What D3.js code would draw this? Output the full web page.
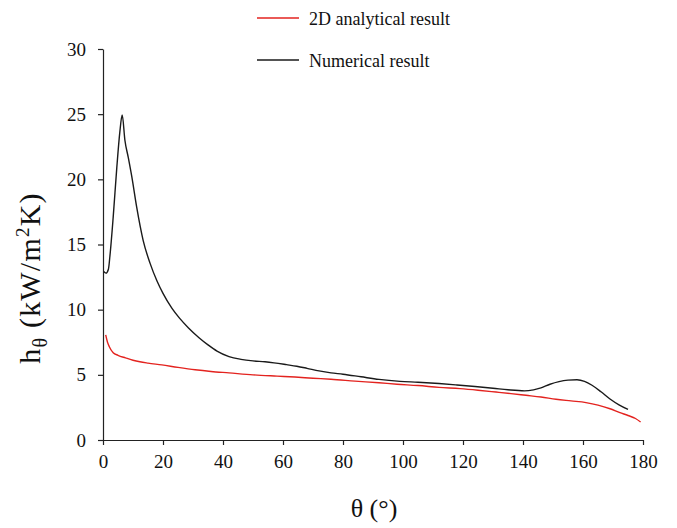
<!DOCTYPE html>
<html>
<head>
<meta charset="utf-8">
<script src="https://cdn.jsdelivr.net/npm/d3@7/dist/d3.min.js"></script>
<style>
  html, body { margin: 0; padding: 0; background: #fff; }
  svg, svg text { font-family: "Liberation Serif", "Times New Roman", serif; }
</style>
</head>
<body>
<svg id="chart" width="677" height="528"></svg>
<script>
// Numerical result: local heat transfer coefficient vs. angle
const numTheta = [0.2, 1.0, 1.8, 2.3, 3.4, 4.6, 5.6, 6.4, 7.3, 8.4, 9.6, 11.2, 13.4, 15.7, 18, 20,
  23, 25.5, 28.5, 32, 35, 38, 42, 46, 50, 54, 57, 61.2, 64.6, 68, 72, 76, 80, 86, 92, 99,
  105, 112, 118, 124, 130, 135, 140.5, 143.5, 146, 149, 152, 155, 158, 160.5, 163, 166, 169, 172, 175];
const numH = [12.92, 12.8, 13.1, 14.1, 17.1, 20.9, 23.6, 24.94, 23.0, 21.7, 20.2, 17.9, 15.3, 13.55, 12.2, 11.25,
  10.1, 9.35, 8.6, 7.85, 7.3, 6.82, 6.4, 6.19, 6.07, 6.0, 5.92, 5.78, 5.66, 5.5, 5.3, 5.15, 5.05, 4.85, 4.65, 4.5,
  4.43, 4.33, 4.22, 4.1, 3.97, 3.85, 3.77, 3.85, 4.0, 4.28, 4.48, 4.59, 4.62, 4.5, 4.2, 3.7, 3.15, 2.7, 2.35];

// 2D analytical result
const anaTheta = [0.9, 1.5, 2.1, 3.4, 5, 7.5, 10, 12.3, 15, 19.6, 25, 30.7, 36, 42, 50, 58, 64, 70, 76, 84,
  92, 98, 105, 112, 119, 125, 131, 136, 141, 146, 151, 156, 161, 165, 169, 172.3, 175, 177.5, 179.2];
const anaH = [8.06, 7.5, 7.16, 6.7, 6.5, 6.3, 6.12, 6.0, 5.9, 5.76, 5.57, 5.39, 5.26, 5.15, 5.0, 4.9, 4.83, 4.74, 4.66, 4.52,
  4.39, 4.28, 4.18, 4.04, 3.94, 3.82, 3.68, 3.56, 3.43, 3.3, 3.13, 3.0, 2.87, 2.68, 2.4, 2.1, 1.88, 1.65, 1.38];

const xTicks = [0, 20, 40, 60, 80, 100, 120, 140, 160, 180];
const yTicks = [0, 5, 10, 15, 20, 25, 30];

const seriesNames = ["2D analytical result", "Numerical result"];
const seriesColors = ["#e3231f", "#1a1a1a"];

const serif = "'Liberation Serif', 'Times New Roman', serif";
const svg = d3.select("#chart");

const x = d3.scaleLinear().domain([0, 180]).range([103, 643]);
const y = d3.scaleLinear().domain([0, 30]).range([440, 49]);

// axes
const xAxis = d3.axisBottom(x).tickValues(xTicks).tickSize(5).tickSizeOuter(0).tickPadding(10);
const yAxis = d3.axisLeft(y).tickValues(yTicks).tickSize(5).tickSizeOuter(0).tickPadding(12);

const gx = svg.append("g").attr("transform", `translate(0,${y(0)})`).call(xAxis);
const gy = svg.append("g").attr("transform", `translate(${x(0)},0)`).call(yAxis);

[gx, gy].forEach(g => {
  g.attr("font-family", null).attr("font-size", null);
  g.selectAll("path, line").attr("stroke", "#222").attr("stroke-width", 1.2);
  g.selectAll("text").style("font-family", serif).style("font-size", "19px").attr("fill", "#111");
});

// curves
const line = d3.line().x(d => x(d[0])).y(d => y(d[1])).curve(d3.curveMonotoneX);

const anaData = anaTheta.map((t, i) => [t, anaH[i]]);
const numData = numTheta.map((t, i) => [t, numH[i]]);

svg.append("path").datum(anaData).attr("d", line)
  .attr("fill", "none").attr("stroke", seriesColors[0]).attr("stroke-width", 1.4);
svg.append("path").datum(numData).attr("d", line)
  .attr("fill", "none").attr("stroke", seriesColors[1]).attr("stroke-width", 1.4);

// legend
const legend = svg.append("g");
seriesNames.forEach((name, i) => {
  const ly = 18 + i * 42;
  legend.append("line").attr("x1", 257).attr("x2", 299).attr("y1", ly).attr("y2", ly)
    .attr("stroke", seriesColors[i]).attr("stroke-width", 1.4);
  legend.append("text").attr("x", 309).attr("y", ly + 7)
    .style("font-family", serif).style("font-size", "18px").attr("fill", "#111").text(name);
});

// axis titles
svg.append("text").attr("x", 374).attr("y", 517).attr("text-anchor", "middle")
  .style("font-family", serif).style("font-size", "26px").attr("fill", "#111").text("θ (°)");

const yt = svg.append("text")
  .attr("transform", "translate(40,278) rotate(-90)")
  .attr("text-anchor", "middle")
  .style("font-family", serif).style("font-size", "30px").style("letter-spacing", "1.2px")
  .attr("fill", "#111");
yt.append("tspan").text("h");
yt.append("tspan").style("font-size", "20px").attr("dy", 7).text("θ");
yt.append("tspan").attr("dy", -7).text(" (kW/m");
yt.append("tspan").style("font-size", "19px").attr("dy", -11).text("2");
yt.append("tspan").attr("dy", 11).text("K)");
</script>
</body>
</html>
